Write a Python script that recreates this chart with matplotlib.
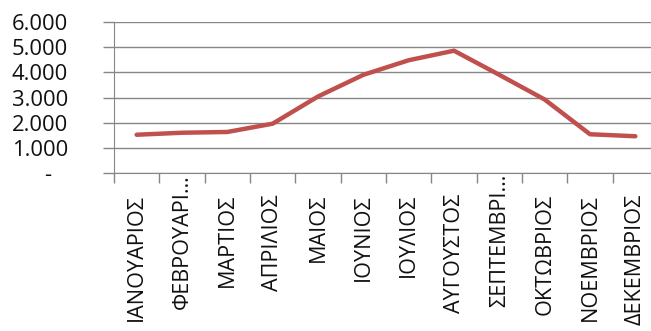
import numpy as np
import matplotlib
matplotlib.use("Agg")
import matplotlib.pyplot as plt
from matplotlib.transforms import ScaledTranslation

plt.rcParams['font.family'] = ['Open Sans', 'DejaVu Sans']

months = ["ΙΑΝΟΥΑΡΙΟΣ", "ΦΕΒΡΟΥΑΡΙ…", "ΜΑΡΤΙΟΣ", "ΑΠΡΙΛΙΟΣ", "ΜΑΙΟΣ", "ΙΟΥΝΙΟΣ",
          "ΙΟΥΛΙΟΣ", "ΑΥΓΟΥΣΤΟΣ", "ΣΕΠΤΕΜΒΡΙ…", "ΟΚΤΩΒΡΙΟΣ", "ΝΟΕΜΒΡΙΟΣ", "ΔΕΚΕΜΒΡΙΟΣ"]
values = [1520, 1600, 1630, 1960, 3040, 3900, 4480, 4860, 3900, 2920, 1540, 1460]
ytick_vals = [0, 1000, 2000, 3000, 4000, 5000, 6000]
ytick_labels = ["-", "1.000", "2.000", "3.000", "4.000", "5.000", "6.000"]

grid_col = "#868686"

fig = plt.figure(figsize=(6.51, 3.31), dpi=100)
ax = fig.add_axes([114/651, 158/331, 544/651, 151/331])

x = np.arange(len(months))
ax.plot(x, values, color="#C0504D", lw=3.2, solid_capstyle="round", solid_joinstyle="round", zorder=3)

ax.set_xlim(-0.5, len(months) - 0.5)
ax.set_ylim(0, 6000)

ax.set_yticks(ytick_vals)
ax.set_yticklabels(ytick_labels, fontsize=15.8, color="#111111")
ax.tick_params(axis="y", length=8, width=1, color=grid_col, pad=25)
# the zero dash sits a bit further left
ax.get_yticklabels()[0].set_transform(ax.get_yticklabels()[0].get_transform()
                                      + ScaledTranslation(-12/72, 0, fig.dpi_scale_trans))
ax.yaxis.grid(True, color=grid_col, lw=1)

ax.set_xticks(x)
ax.set_xticklabels(months, rotation=90, fontsize=15.6, color="#111111", va="top", ha="center")
ax.tick_params(axis="x", which="major", length=0, pad=15)
ax.set_xticks(np.arange(-0.5, len(months)), minor=True)
ax.tick_params(axis="x", which="minor", length=7, width=1, color=grid_col)
# truncated names: the ellipsis runs up against the axis
for lab in ax.get_xticklabels():
    if lab.get_text().endswith("…"):
        lab.set_transform(lab.get_transform() + ScaledTranslation(0, 0.2, fig.dpi_scale_trans))

for s in ["top", "right"]:
    ax.spines[s].set_visible(False)
ax.spines["left"].set_color(grid_col)
ax.spines["bottom"].set_color(grid_col)
ax.set_axisbelow(True)

fig.savefig("out.png", dpi=100)
